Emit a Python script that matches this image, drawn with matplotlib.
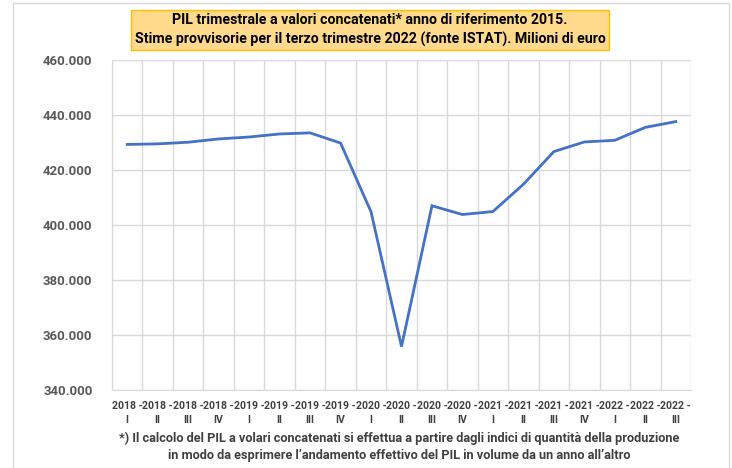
import numpy as np
import matplotlib.pyplot as plt
from matplotlib.patches import Rectangle

plt.rcParams['font.family'] = ['Roboto', 'DejaVu Sans']

anni = ['2018', '2018', '2018', '2018', '2019', '2019', '2019', '2019',
        '2020', '2020', '2020', '2020', '2021', '2021', '2021', '2021',
        '2022', '2022', '2022']
trimestri = ['I', 'II', 'III', 'IV', 'I', 'II', 'III', 'IV',
             'I', 'II', 'III', 'IV', 'I', 'II', 'III', 'IV',
             'I', 'II', 'III']
pil = [429.3, 429.5, 430.1, 431.3, 432.0, 433.1, 433.5, 429.8,
       404.8, 355.8, 407.0, 403.8, 404.9, 414.8, 426.7, 430.2,
       430.8, 435.5, 437.6]  # migliaia di milioni
yticks = [340, 360, 380, 400, 420, 440, 460]

etichette = [a + ' -\n' + t for a, t in zip(anni, trimestri)]

fig = plt.figure(figsize=(7.32, 4.68), dpi=100)
ax = fig.add_axes([112/732, 1 - 390/468, (691-112)/732, (390-60)/468])

x = np.arange(len(pil))
ax.plot(x, pil, color='#4472C4', lw=2, solid_joinstyle='miter')

ax.set_xlim(-0.5, len(pil) - 0.5)
ax.set_ylim(340, 460)
ax.set_yticks(yticks)
ax.set_yticklabels([f'{v}.000' for v in yticks])
ax.set_xticks(x)
ax.set_xticklabels(etichette)
ax.set_xticks(np.arange(len(pil) + 1) - 0.5, minor=True)
ax.grid(True, which='major', axis='y', color='#D9D9D9', lw=1)
ax.grid(True, which='minor', axis='x', color='#D9D9D9', lw=1)
ax.tick_params(which='both', length=0)
ax.tick_params(axis='y', pad=14, labelsize=9.5, labelcolor='#595959')
ax.tick_params(axis='x', pad=8, labelsize=7.6, labelcolor='#404040')
for lab in ax.get_xticklabels() + ax.get_yticklabels():
    lab.set_fontweight('bold')
for lab in ax.get_xticklabels():
    lab.set_linespacing(1.5)
for s in ax.spines.values():
    s.set_visible(False)
ax.spines['left'].set_visible(True)
ax.spines['left'].set_color('#D9D9D9')
ax.spines['bottom'].set_visible(True)
ax.spines['bottom'].set_color('#D9D9D9')

# cornice esterna
fig.patches.append(Rectangle((13/732, -0.1), (729-13)/732, 1.1 - 3/468,
                             transform=fig.transFigure, fill=False,
                             edgecolor='#D9D9D9', lw=1))

fig.text(370/732, 1 - 30/468,
         'PIL trimestrale a valori concatenati* anno di riferimento 2015.\n'
         'Stime provvisorie per il terzo trimestre 2022 (fonte ISTAT). Milioni di euro',
         ha='center', va='center', fontsize=10.2, fontweight='bold', color='black',
         linespacing=1.35,
         bbox=dict(boxstyle='square,pad=0.25', facecolor='#FFD98C',
                   edgecolor='#FFC000', lw=1))

fig.text(399/732, 1 - 447/468,
         '*) Il calcolo del PIL a volari concatenati si effettua a partire dagli indici di quantità della produzione\n'
         'in modo da esprimere l\u2019andamento effettivo del PIL in volume da un anno all\u2019altro',
         ha='center', va='center', fontsize=9.2, fontweight='bold', color='#404040',
         linespacing=1.35)

fig.savefig('out.png', dpi=100)
